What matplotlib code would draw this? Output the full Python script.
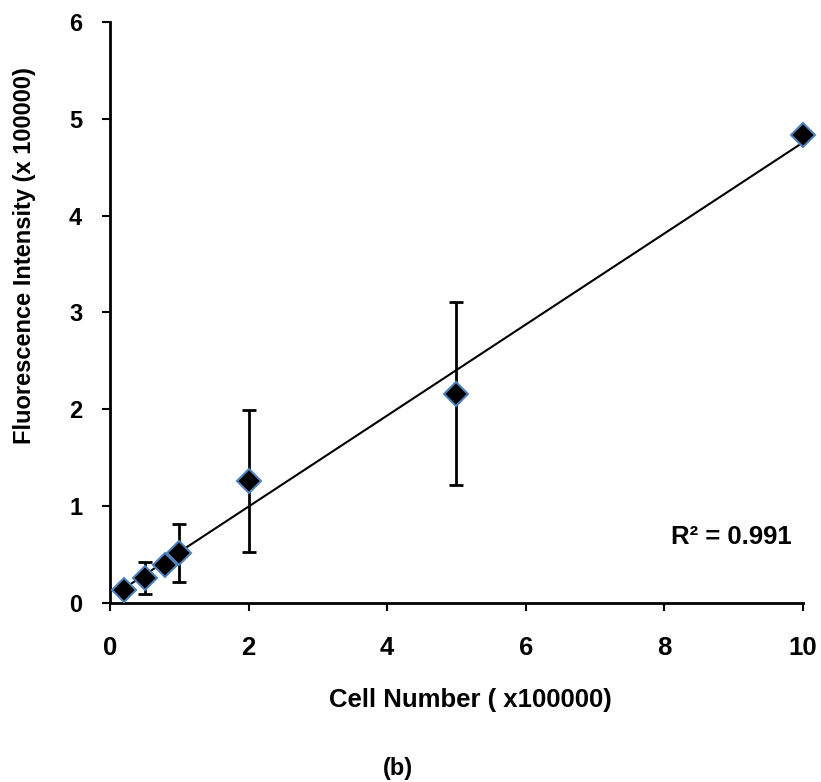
import numpy as np
import matplotlib
matplotlib.use("Agg")
import matplotlib.pyplot as plt

# data
cells = [0.2, 0.5, 0.8, 1.0, 2.0, 5.0, 10.0]
intensity = [0.13, 0.26, 0.39, 0.52, 1.26, 2.16, 4.83]
err = [0.0, 0.165, 0.0, 0.30, 0.73, 0.945, 0.0]
x_ticks = [0, 2, 4, 6, 8, 10]
y_ticks = [0, 1, 2, 3, 4, 5, 6]

plt.rcParams["font.family"] = ["Liberation Sans", "DejaVu Sans"]
plt.rcParams["font.weight"] = "bold"
FS = 17      # vertical texts / y ticks
FS_H = 18.5  # horizontal texts (reference is slightly stretched sideways)

fig = plt.figure(figsize=(8.21, 7.82), dpi=100)
ax = fig.add_axes([0.134, 0.229, 0.844, 0.743])

# linear trendline
slope, icpt = np.polyfit(cells, intensity, 1)
xs = np.array([cells[0], cells[-1]])
ax.plot(xs, slope * xs + icpt, color="black", lw=1.5, zorder=2)

ax.errorbar(cells, intensity, yerr=err, fmt="none", ecolor="black",
            elinewidth=2, capsize=4.7, capthick=2, zorder=3)
ax.plot(cells, intensity, "D", color="black", mec="#4F81BD", mew=1.5,
        ms=12.5, zorder=4, clip_on=False)

ax.set_xlim(0, 10)
ax.set_ylim(0, 6)
ax.set_xticks(x_ticks)
ax.set_yticks(y_ticks)
ax.tick_params(direction="out", length=6, width=1.5, labelsize=FS)
ax.tick_params(axis="x", pad=18, labelsize=FS_H)
ax.tick_params(axis="y", pad=14)
for s in ("top", "right"):
    ax.spines[s].set_visible(False)
for s in ("left", "bottom"):
    ax.spines[s].set_linewidth(2)

fig.text(470 / 821, 1 - 700 / 782, "Cell Number ( x100000)", ha="center", va="center",
         fontsize=FS_H, fontweight="bold")
fig.text(25 / 821, 1 - 256 / 782, "Fluorescence Intensity (x 100000)", ha="center",
         va="center", rotation=90, fontsize=FS, fontweight="bold")

ax.text(792 / 821, 1 - 537 / 782, "R² = 0.991", transform=fig.transFigure, ha="right",
        va="center", fontsize=FS_H, fontweight="bold")
fig.text(398 / 821, 1 - 768 / 782, "(b)", ha="center", va="center", fontsize=FS,
         fontweight="bold")

fig.savefig("out.png", dpi=100)
